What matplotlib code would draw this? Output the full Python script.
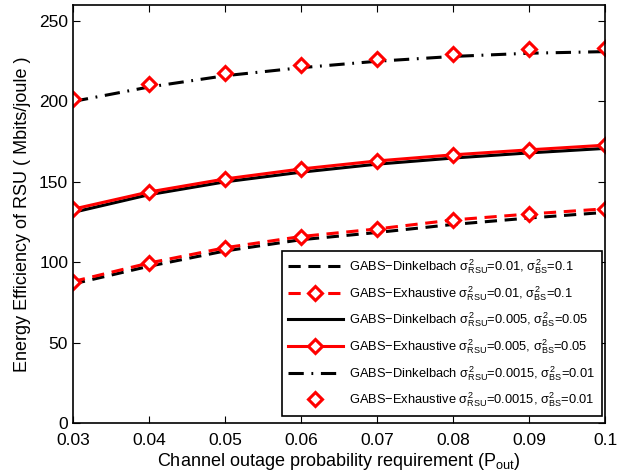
import numpy as np
import matplotlib.pyplot as plt

plt.rcParams['font.family'] = ['Liberation Sans', 'DejaVu Sans']
plt.rcParams['mathtext.fontset'] = 'custom'
plt.rcParams['mathtext.rm'] = 'Liberation Sans'
plt.rcParams['mathtext.it'] = 'Liberation Sans'
plt.rcParams['mathtext.sf'] = 'Liberation Sans'

# channel outage probability requirement
p_out = [0.03, 0.04, 0.05, 0.06, 0.07, 0.08, 0.09, 0.1]

# sigma_RSU=0.01, sigma_BS=0.1
dink_01 = [86.5, 97.5, 107.0, 114.0, 118.5, 123.5, 127.5, 131.0]
exh_01 = [88.0, 99.5, 109.0, 116.0, 120.7, 126.3, 130.0, 133.2]
# sigma_RSU=0.005, sigma_BS=0.05
dink_005 = [131.0, 142.0, 150.0, 156.0, 161.0, 164.8, 168.0, 170.8]
exh_005 = [133.0, 143.7, 151.8, 158.0, 163.0, 166.8, 169.9, 172.8]
# sigma_RSU=0.0015, sigma_BS=0.01
dink_001 = [200.0, 209.0, 216.0, 221.0, 225.0, 228.0, 230.0, 231.0]
exh_001 = [201.5, 211.0, 218.0, 222.8, 226.3, 229.4, 232.5, 233.2]

x_ticks = [0.03, 0.04, 0.05, 0.06, 0.07, 0.08, 0.09, 0.1]
x_labels = ['0.03', '0.04', '0.05', '0.06', '0.07', '0.08', '0.09', '0.1']
y_ticks = [0, 50, 100, 150, 200, 250]

fig = plt.figure(figsize=(6.38, 4.76), dpi=100)
ax = fig.add_axes([73 / 638, 53 / 476, 532 / 638, 418 / 476])

mk = dict(marker='D', markersize=7, markerfacecolor='white',
          markeredgecolor='red', markeredgewidth=2.2)

ax.plot(p_out, dink_01, color='black', lw=2.2, ls=(0, (4, 2.5)),
        label=r'GABS$-$Dinkelbach $\sigma^2_{RSU}$=0.01, $\sigma^2_{BS}$=0.1')
ax.plot(p_out, exh_01, color='red', lw=2.2, ls=(0, (4, 2.5)), **mk,
        label=r'GABS$-$Exhaustive $\sigma^2_{RSU}$=0.01, $\sigma^2_{BS}$=0.1')
ax.plot(p_out, dink_005, color='black', lw=2.2, ls='-',
        label=r'GABS$-$Dinkelbach $\sigma^2_{RSU}$=0.005, $\sigma^2_{BS}$=0.05')
ax.plot(p_out, exh_005, color='red', lw=2.2, ls='-', **mk,
        label=r'GABS$-$Exhaustive $\sigma^2_{RSU}$=0.005, $\sigma^2_{BS}$=0.05')
ax.plot(p_out, dink_001, color='black', lw=2.2, ls=(0, (5, 2.5, 0.6, 2.5)),
        label=r'GABS$-$Dinkelbach $\sigma^2_{RSU}$=0.0015, $\sigma^2_{BS}$=0.01')
ax.plot(p_out, exh_001, ls='none', **mk,
        label=r'GABS$-$Exhaustive $\sigma^2_{RSU}$=0.0015, $\sigma^2_{BS}$=0.01')

ax.set_xlim(0.03, 0.1)
ax.set_ylim(0, 260)
ax.set_xticks(x_ticks)
ax.set_xticklabels(x_labels)
ax.set_yticks(y_ticks)
ax.tick_params(direction='in', top=True, right=True, labelsize=12.5, length=5, width=0.8)
ax.tick_params(axis='x', pad=7)
for s in ax.spines.values():
    s.set_linewidth(1.2)

ax.set_xlabel(r'Channel outage probability requirement (P$_{out}$)', fontsize=13, labelpad=2)
ax.set_ylabel('Energy Efficiency of RSU ( Mbits/joule )', fontsize=13, labelpad=6)

leg = ax.legend(loc='lower right', fontsize=9.3, handlelength=4.2, fancybox=False,
                edgecolor='black', framealpha=1, borderpad=0.5, labelspacing=0.62,
                handletextpad=0.5, borderaxespad=0, bbox_to_anchor=(0.994, 0.017))
leg.get_frame().set_linewidth(1.2)

fig.savefig('out.png', dpi=100)
